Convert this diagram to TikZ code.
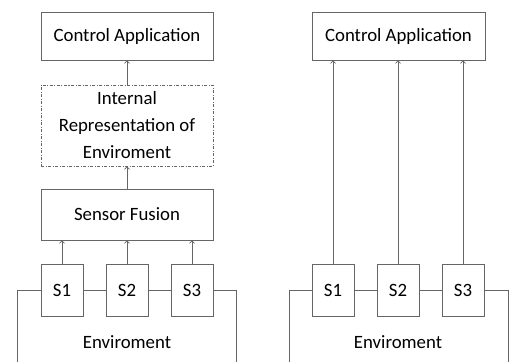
\documentclass[tikz,border=0pt]{standalone}
\usepackage{fontspec}
\setmainfont{Carlito}
\usetikzlibrary{arrows.meta}
\tikzstyle{line}=[draw=black!60, line width=0.7pt]
\tikzstyle{block}=[line, rectangle, inner sep=0pt, font=\fontsize{18.8}{27}\selectfont]
\tikzstyle{sensor}=[block, minimum width=42pt, minimum height=52pt]
\tikzstyle{wide}=[block, minimum width=172pt]
\tikzstyle{feed}=[line, -{Straight Barb[length=2.5pt, width=5pt]}]

\begin{document}
\begin{tikzpicture}[x=1pt, y=-1pt]
          \useasboundingbox (0, 0) rectangle (509, 362);
          % left: sensor fusion
          \node[wide, minimum height=48pt] (ctrlL) at (127, 36) {Control Application};
          \node[wide, minimum height=81pt, dash pattern=on 3pt off 1.5pt on 1pt off 1.5pt,
            align=center] (repr) at (127, 125.5) {Internal\\Representation of\\Enviroment};
          \node[wide, minimum height=51pt] (fusion) at (127, 214.5) {Sensor Fusion};
          \node[sensor] (s1L) at (62, 290) {S1};
          \node[sensor] (s2L) at (127, 290) {S2};
          \node[sensor] (s3L) at (192, 290) {S3};
          \node[block, draw=none] (envL) at (127, 342) {Enviroment};
          \coordinate (envLa) at (17, 362);
          \coordinate (envLb) at (236, 362);
          \draw[feed] (fusion) -- (repr);
          \draw[feed] (repr) -- (ctrlL);
          \foreach \s in {s1L, s2L, s3L}
            \draw[feed] (\s.north) -- (\s.north |- fusion.south);
          \draw[line] (s1L) -- (s2L) (s2L) -- (s3L);
          \draw[line] (s1L.west) -| (envLa);
          \draw[line] (s3L.east) -| (envLb);
          % right: direct
          \node[wide, minimum width=173pt, minimum height=48pt] (ctrlR) at (398.5, 36) {Control Application};
          \node[sensor] (s1R) at (333, 290) {S1};
          \node[sensor] (s2R) at (398, 290) {S2};
          \node[sensor] (s3R) at (463, 290) {S3};
          \node[block, draw=none] (envR) at (398, 342) {Enviroment};
          \coordinate (envRa) at (289, 362);
          \coordinate (envRb) at (508, 362);
          \foreach \s in {s1R, s2R, s3R}
            \draw[feed] (\s.north) -- (\s.north |- ctrlR.south);
          \draw[line] (s1R) -- (s2R) (s2R) -- (s3R);
          \draw[line] (s1R.west) -| (envRa);
          \draw[line] (s3R.east) -| (envRb);
        \end{tikzpicture}
\end{document}
